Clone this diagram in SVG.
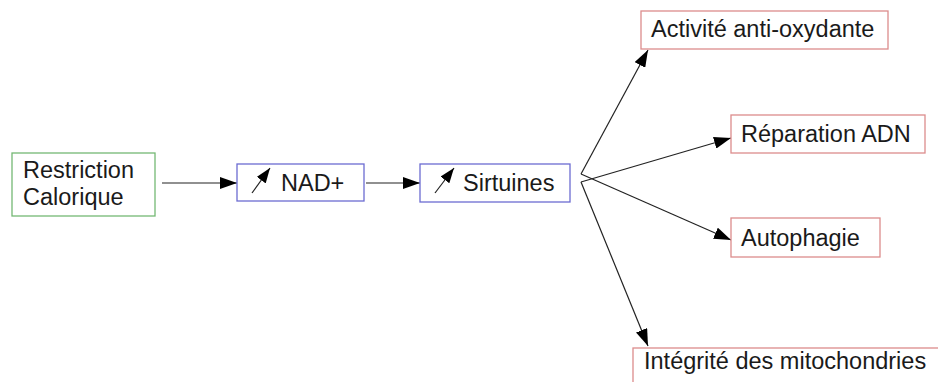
<svg xmlns="http://www.w3.org/2000/svg" width="938" height="382" viewBox="0 0 938 382">
<defs>
<style>
.box{fill:#fff;stroke-width:1.3}
.g{stroke:#74b874}
.b{stroke:#6c6cd2}
.r{stroke:#dc8c8c}
text{font-family:"Liberation Sans",Arial,sans-serif;font-size:23.5px;fill:#1a1a1a}
.c{stroke:#222;stroke-width:1.2;fill:none}
</style>
<marker id="ah" viewBox="0 0 17 12" refX="17" refY="6" markerWidth="17" markerHeight="12" markerUnits="userSpaceOnUse" orient="auto"><path d="M0,0 L17,6 L0,12 Z" fill="#000"/></marker>
<marker id="sh" viewBox="0 0 15 11" refX="15" refY="5.5" markerWidth="15" markerHeight="11" markerUnits="userSpaceOnUse" orient="auto"><path d="M0,0 L15,5.5 L0,11 Z" fill="#000"/></marker>
</defs>
<rect width="938" height="382" fill="#fff"/>
<g id="connectors">
<line class="c" x1="162" y1="183" x2="237" y2="183" marker-end="url(#ah)"/>
<line class="c" x1="366" y1="183" x2="420" y2="183" marker-end="url(#ah)"/>
<polyline class="c" points="581,174 648,50" marker-end="url(#ah)"/>
<polyline class="c" points="581,182 731,138" marker-end="url(#ah)"/>
<polyline class="c" points="581,174 731,240" marker-end="url(#ah)"/>
<polyline class="c" points="581,182 648,346" marker-end="url(#ah)"/>
</g>
<g id="restriction">
<rect class="box g" x="12" y="153" width="143" height="63"/>
<text x="23" y="178">Restriction</text>
<text x="23" y="205">Calorique</text>
</g>
<g id="nad">
<rect class="box b" x="237" y="164" width="127" height="37"/>
<line class="c" x1="252" y1="193" x2="270" y2="168" marker-end="url(#sh)"/>
<text x="281" y="191">NAD+</text>
</g>
<g id="sirtuines">
<rect class="box b" x="420" y="164" width="150" height="38"/>
<line class="c" x1="435" y1="193" x2="454" y2="168" marker-end="url(#sh)"/>
<text x="463" y="191">Sirtuines</text>
</g>
<g id="activite">
<rect class="box r" x="641" y="11" width="247" height="38"/>
<text x="651" y="37">Activité anti-oxydante</text>
</g>
<g id="reparation">
<rect class="box r" x="731" y="115" width="194" height="38"/>
<text x="741" y="142">Réparation ADN</text>
</g>
<g id="autophagie">
<rect class="box r" x="731" y="218" width="149" height="39"/>
<text x="741" y="246">Autophagie</text>
</g>
<g id="integrite">
<rect class="box r" x="633" y="348" width="320" height="50"/>
<text x="644" y="369">Intégrité des mitochondries</text>
</g>
</svg>
